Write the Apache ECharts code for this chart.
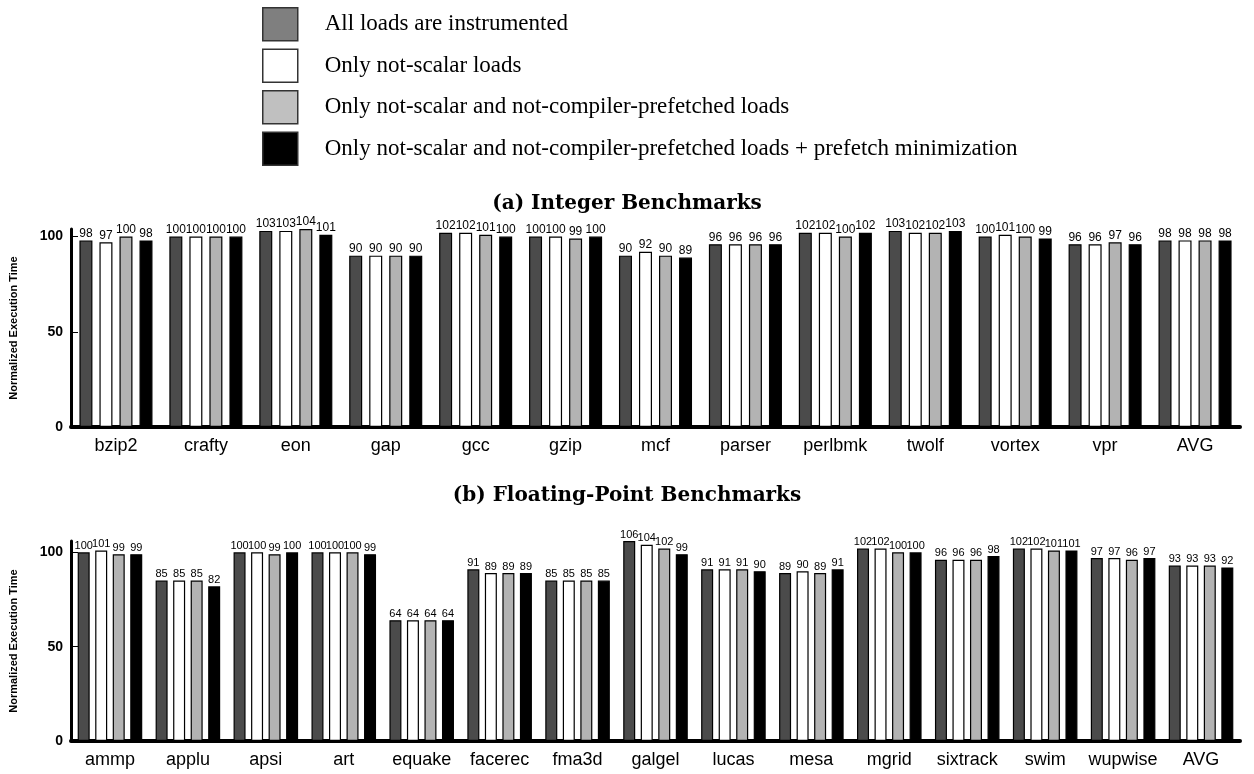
<!DOCTYPE html>
<html>
<head>
<meta charset="utf-8">
<script src="https://cdn.jsdelivr.net/npm/echarts@6/dist/echarts.min.js"></script>
<style>
  html, body { margin: 0; padding: 0; background: #fff; }
  #chart { width: 1254px; height: 774px; }
</style>
</head>
<body>
<div id="chart"></div>
<script>
// Integer benchmarks (panel a)
const INT_CATS = ["bzip2", "crafty", "eon", "gap", "gcc", "gzip", "mcf", "parser", "perlbmk", "twolf", "vortex", "vpr", "AVG"];
const INT_ALL = [98, 100, 103, 90, 102, 100, 90, 96, 102, 103, 100, 96, 98];
const INT_NOSCALAR = [97, 100, 103, 90, 102, 100, 92, 96, 102, 102, 101, 96, 98];
const INT_NOPREF = [100, 100, 104, 90, 101, 99, 90, 96, 100, 102, 100, 97, 98];
const INT_MINPREF = [98, 100, 101, 90, 100, 100, 89, 96, 102, 103, 99, 96, 98];

// Floating-point benchmarks (panel b)
const FP_CATS = ["ammp", "applu", "apsi", "art", "equake", "facerec", "fma3d", "galgel", "lucas", "mesa", "mgrid", "sixtrack", "swim", "wupwise", "AVG"];
const FP_ALL = [100, 85, 100, 100, 64, 91, 85, 106, 91, 89, 102, 96, 102, 97, 93];
const FP_NOSCALAR = [101, 85, 100, 100, 64, 89, 85, 104, 91, 90, 102, 96, 102, 97, 93];
const FP_NOPREF = [99, 85, 99, 100, 64, 89, 85, 102, 91, 89, 100, 96, 101, 96, 93];
const FP_MINPREF = [99, 82, 100, 99, 64, 89, 85, 99, 90, 91, 100, 98, 101, 97, 92];

const SERIES_NAMES = [
  "All loads are instrumented",
  "Only not-scalar loads",
  "Only not-scalar and not-compiler-prefetched loads",
  "Only not-scalar and not-compiler-prefetched loads + prefetch minimization",
];
const FILLS = ["#4b4b4b", "#ffffff", "#b3b3b3", "#000000"];
// the legend swatches are drawn a bit lighter than the bars in the original
const LEGEND_FILLS = ["#7f7f7f", "#ffffff", "#c0c0c0", "#000000"];
const Y_TICKS = [0, 50, 100];

const SANS = "'Liberation Sans', Arial, sans-serif";
const SERIF = "'DejaVu Serif', serif";

function yAxis(gridIndex, max) {
  return {
    type: "value", gridIndex, min: 0, max,
    name: "Normalized Execution Time",
    nameLocation: "middle", nameGap: 52, nameRotate: 90,
    nameTextStyle: { fontFamily: SANS, fontWeight: "bold", fontSize: 11, color: "#000" },
    axisLine: { show: true, lineStyle: { color: "#000", width: 3 } },
    axisTick: { show: true, inside: true, length: 7, customValues: Y_TICKS, lineStyle: { color: "#000", width: 1 } },
    axisLabel: { customValues: Y_TICKS, margin: 8, fontFamily: SANS, fontWeight: "bold", fontSize: 14, color: "#000" },
    splitLine: { show: false },
  };
}

function xAxis(gridIndex, cats) {
  return {
    type: "category", gridIndex, data: cats,
    axisLine: { show: true, lineStyle: { color: "#000", width: 4 } },
    axisTick: { show: false },
    axisLabel: { margin: 10, fontFamily: SANS, fontSize: 18, color: "#000", interval: 0 },
  };
}

function bars(gridIndex, values, labelSize, barWidth, barGap, catGap) {
  return values.map((v, i) => ({
    name: SERIES_NAMES[i],
    type: "bar",
    xAxisIndex: gridIndex, yAxisIndex: gridIndex,
    data: v,
    barWidth, barGap, barCategoryGap: catGap,
    itemStyle: { color: FILLS[i], borderColor: "#000", borderWidth: 1.2 },
    label: { show: true, position: "top", distance: 1, fontFamily: SANS, fontSize: labelSize, color: "#000" },
    emphasis: { disabled: true },
  }));
}

function panelTitle(tag, text, top) {
  return {
    text: "{n|" + tag + " }{b|" + text + "}",
    left: "center", top,
    textStyle: { rich: {
      n: { fontFamily: SERIF, fontSize: 20, color: "#000" },
      b: { fontFamily: SERIF, fontSize: 20, fontWeight: "bold", color: "#000" },
    } },
  };
}

const chart = echarts.init(document.getElementById("chart"));
chart.setOption({
  animation: false,
  backgroundColor: "#fff",
  title: [
    panelTitle("(a)", "Integer Benchmarks", 189),
    panelTitle("(b)", "Floating-Point Benchmarks", 481),
  ],
  legend: {
    orient: "vertical", left: 262, top: 7, padding: 0,
    itemWidth: 35, itemHeight: 33, itemGap: 7,
    icon: "rect",
    selectedMode: false,
    data: SERIES_NAMES.map((name, i) => ({
      name,
      itemStyle: { color: LEGEND_FILLS[i], borderColor: "#333", borderWidth: 1.5 },
    })),
    textStyle: { fontFamily: "'Liberation Serif', 'Times New Roman', serif", fontSize: 23, color: "#000", padding: [8, 0, 0, 22] },
  },
  grid: [
    { left: 70, right: 14, top: 229, bottom: 347 },
    { left: 70, right: 14, top: 541, bottom: 33 },
  ],
  xAxis: [xAxis(0, INT_CATS), xAxis(1, FP_CATS)],
  yAxis: [yAxis(0, 104), yAxis(1, 106)],
  series: [
    ...bars(0, [INT_ALL, INT_NOSCALAR, INT_NOPREF, INT_MINPREF], 12, 13, "54%", "19%"),
    ...bars(1, [FP_ALL, FP_NOSCALAR, FP_NOPREF, FP_MINPREF], 11, 12, "46%", "17%"),
  ],
});
</script>
</body>
</html>
